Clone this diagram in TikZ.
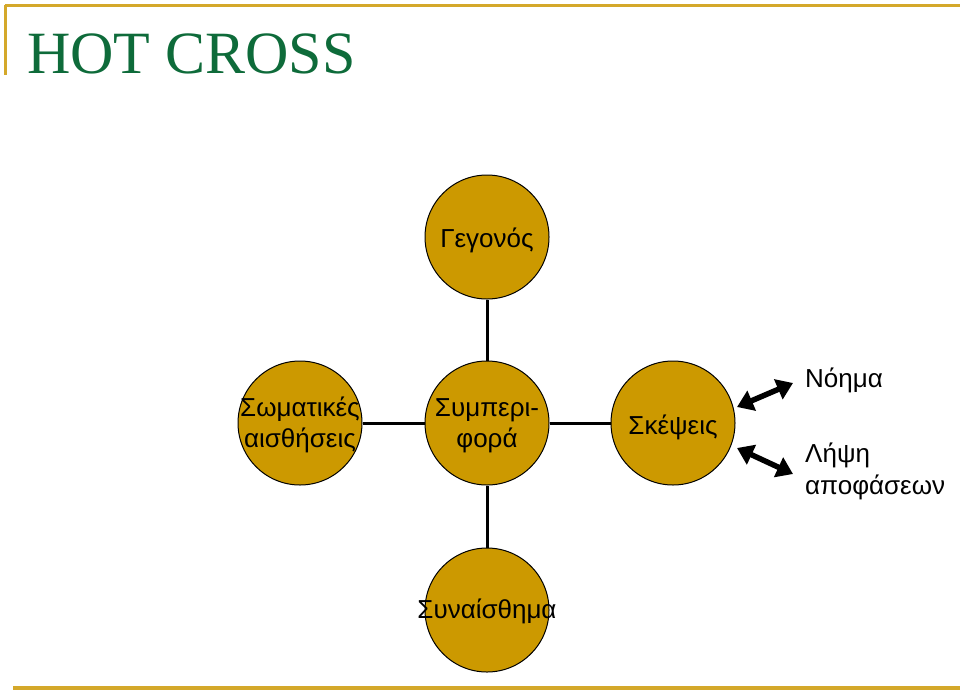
\documentclass[tikz,border=0pt]{standalone}
\usepackage{fontspec}
\setmainfont{Liberation Sans}
\newfontfamily\titlefont{Liberation Serif}
\usetikzlibrary{arrows.meta}
\definecolor{gold}{HTML}{CC9900}
\definecolor{rulegold}{HTML}{D4A82A}
\definecolor{titlegreen}{HTML}{0E6B3A}
\begin{document}
\begin{tikzpicture}[x=1pt,y=-1pt,
  bubble/.style={circle,draw=black,line width=1pt,fill=gold,minimum size=124pt,inner sep=0pt},
  intext/.style={inner sep=0pt,align=center,font=\fontsize{26}{31}\selectfont},
  link/.style={line width=3pt,black},
  dblarrow/.style={line width=5.5pt,{Triangle[length=16pt,width=21pt]}-{Triangle[length=16pt,width=21pt]}},
  lbl/.style={anchor=west,inner sep=0pt,font=\fontsize{26}{32}\selectfont,align=left}]
\useasboundingbox (0,0) rectangle (960,691);
% frame rules
\draw[rulegold,line width=3pt] (5,5) -- (960,5);
\draw[rulegold,line width=3pt] (5,5) -- (5,75);
\draw[rulegold,line width=3.5pt] (13,688) -- (960,688);
% title
\node[anchor=base west,inner sep=0pt,text=titlegreen,font=\titlefont\fontsize{60}{60}\selectfont] (title) at (27,73) {HOT CROSS};
% circles
\node[bubble] (ev) at (487,237) {};
\node[bubble] (beh) at (487,423) {};
\node[bubble] (body) at (300,423) {};
\node[bubble] (th) at (673,423) {};
\node[bubble] (em) at (487,610) {};
% circle texts
\node[intext] (evt) at ([yshift=-3pt]ev.center) {Γεγονός};
\node[intext] (beht) at ([yshift=-3pt]beh.center) {Συμπερι-\\φορά};
\node[intext] (bodyt) at ([yshift=-2pt]body.center) {Σωματικές\\αισθήσεις};
\node[intext] (tht) at ([yshift=-4pt]th.center) {Σκέψεις};
\node[intext] (emt) at ([yshift=-1pt]em.center) {Συναίσθημα};
% links
\draw[link] (ev) -- (beh);
\draw[link] (body) -- (beh);
\draw[link] (beh) -- (th);
\draw[link] (beh) -- (em);
% labels
\node[lbl] (mean) at (805,380) {Νόημα};
\node[lbl] (dec) at (805,471) {Λήψη\\αποφάσεων};
\coordinate (a1s) at (737,407);
\coordinate (a1e) at (793,383);
\coordinate (a2s) at (737,448);
\coordinate (a2e) at (793,474);
\draw[dblarrow] (a1s) -- (a1e);
\draw[dblarrow] (a2s) -- (a2e);
\end{tikzpicture}
\end{document}
